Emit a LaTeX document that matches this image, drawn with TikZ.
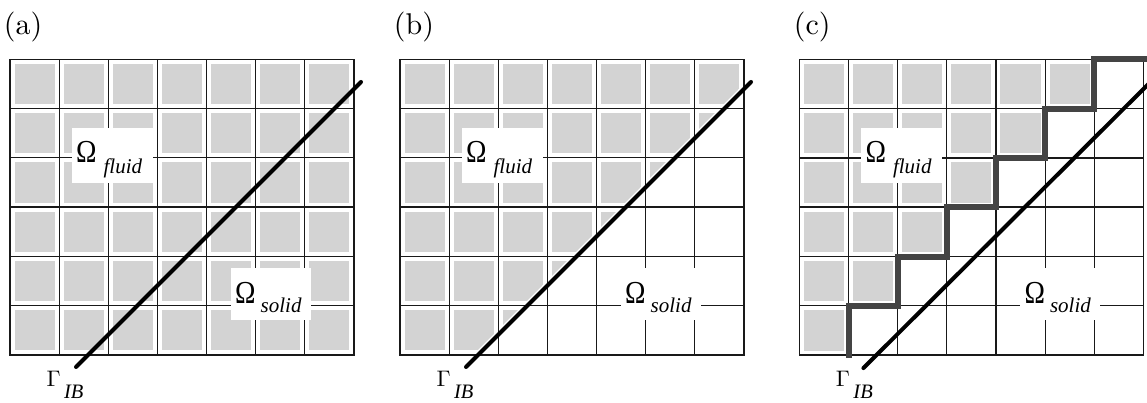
\documentclass[tikz,border=0pt]{standalone}
\usepackage{graphicx}
\usepackage{fontspec}
\newfontfamily\tms{Liberation Serif}
\definecolor{cellgray}{RGB}{211,211,211}
\definecolor{stairc}{RGB}{68,68,68}
\definecolor{gridc}{RGB}{25,25,25}
\newcommand\cellw{49.14}
\newcommand\cellh{49.28}
\newcommand\bigom{\scalebox{0.86}[1]{\tms\fontsize{32}{32}\selectfont Ω}}
\tikzset{
  cell/.style={fill=cellgray,draw=none},
  gridline/.style={draw=gridc,line width=1.2pt},
  ibline/.style={draw=black,line width=4pt,line cap=round},
  stairline/.style={draw=stairc,line width=6pt,line cap=rect,line join=miter},
  lbox/.style={fill=white,draw=none,inner sep=0pt},
  omlabel/.style={inner sep=0pt,anchor=base west},
  gamlabel/.style={inner sep=0pt,anchor=base west},
  panlabel/.style={inner sep=0pt,anchor=base west}
}
\newcommand\graycell[2]{\fill[cell] ({#1*\cellw+4.5},{#2*\cellh+4.5}) rectangle ({(#1+1)*\cellw-4.5},{(#2+1)*\cellh-4.5});}
\newcommand\drawgrid{%
  \foreach \i/\w in {1/1.2,2/1.2,3/1.2,4/1.8,5/1.2,6/1.2}
    \draw[gridline,line width=\w pt] ({\i*\cellw},0) -- ({\i*\cellw},{6*\cellh});
  \foreach \j/\w in {1/1.2,2/1.2,3/1.8,4/1.2,5/1.2}
    \draw[gridline,line width=\w pt] (0,{\j*\cellh}) -- ({7*\cellw},{\j*\cellh});
  \draw[gridline] (0,0) rectangle ({7*\cellw},{6*\cellh});
}
\newcommand\drawlabels[1]{%
  \node[lbox,minimum width=81pt,minimum height=54.7pt] (#1-fbox) at (102.2,96.05) {};
  \node[lbox,minimum width=79.7pt,minimum height=51.7pt] (#1-sbox) at (260.9,234.9) {};
  \node[omlabel] (#1-fluid) at (66,103.4) {\bigom\hspace{7pt}\raisebox{-10.6pt}{\tms\fontsize{21}{21}\selectfont\itshape fluid}};
  \node[omlabel] (#1-solid) at (225,244) {\bigom\hspace{5pt}\raisebox{-9pt}{\tms\fontsize{21}{21}\selectfont\itshape solid}};
  \node[gamlabel] (#1-gamma) at (36.3,327.4) {\scalebox{2.25}{$\Gamma$}\hspace{3.5pt}\raisebox{-11.6pt}{\tms\fontsize{20.5}{20.5}\selectfont\itshape IB}};
}
\begin{document}
\begin{tikzpicture}[x=1pt,y=-1pt]
\useasboundingbox (0,0) rectangle (1147,403);
\fill[white] (0,0) rectangle (1147,403);
% panel labels
\node[panlabel] (la) at (3.7,34.2) {\scalebox{3}{(a)}};
\node[panlabel] (lb) at (393.7,34.2) {\scalebox{3}{(b)}};
\node[panlabel] (lc) at (793.7,34.2) {\scalebox{3}{(c)}};
% ---------- panel (a)
\begin{scope}[shift={(10,59.3)}]
  \foreach \i in {0,...,6} \foreach \j in {0,...,5} {\graycell{\i}{\j}}
  \drawgrid
  \coordinate (a-s) at (66,{6*\cellh+12});
  \coordinate (a-e) at (351,{6*\cellh-273});
  \draw[ibline] (a-s) -- (a-e);
  \drawlabels{a}
\end{scope}
% ---------- panel (b)
\begin{scope}[shift={(400,59.3)}]
  \begin{scope}
    \clip (-20,{6*\cellh+93}) -- (400,{6*\cellh-327}) -- (-20,{6*\cellh-327}) -- cycle;
    \foreach \i in {0,...,6} \foreach \j in {0,...,5} {\graycell{\i}{\j}}
  \end{scope}
  \drawgrid
  \coordinate (b-s) at (66,{6*\cellh+12});
  \coordinate (b-e) at (351,{6*\cellh-273});
  \draw[ibline] (b-s) -- (b-e);
  \drawlabels{b}
\end{scope}
% ---------- panel (c)
\begin{scope}[shift={(799.4,59.4)}]
  \foreach \j in {0,...,5} {
    \pgfmathtruncatemacro\last{5-\j}
    \foreach \i in {0,...,\last} {\graycell{\i}{\j}}
  }
  \drawgrid
  \coordinate (c-s) at (64,{6*\cellh+13});
  \coordinate (c-e) at (351,{6*\cellh-273});
  \draw[ibline] (c-s) -- (c-e);
  \coordinate (st0) at ({\cellw},{6*\cellh});
  \coordinate (st1) at ({7*\cellw+6},0);
  \draw[stairline] (st0)
    -- ({1*\cellw},{5*\cellh}) -- ({2*\cellw},{5*\cellh})
    -- ({2*\cellw},{4*\cellh}) -- ({3*\cellw},{4*\cellh})
    -- ({3*\cellw},{3*\cellh}) -- ({4*\cellw},{3*\cellh})
    -- ({4*\cellw},{2*\cellh}) -- ({5*\cellw},{2*\cellh})
    -- ({5*\cellw},{1*\cellh}) -- ({6*\cellw},{1*\cellh})
    -- ({6*\cellw},0) -- (st1);
  \drawlabels{c}
\end{scope}
\end{tikzpicture}
\end{document}
